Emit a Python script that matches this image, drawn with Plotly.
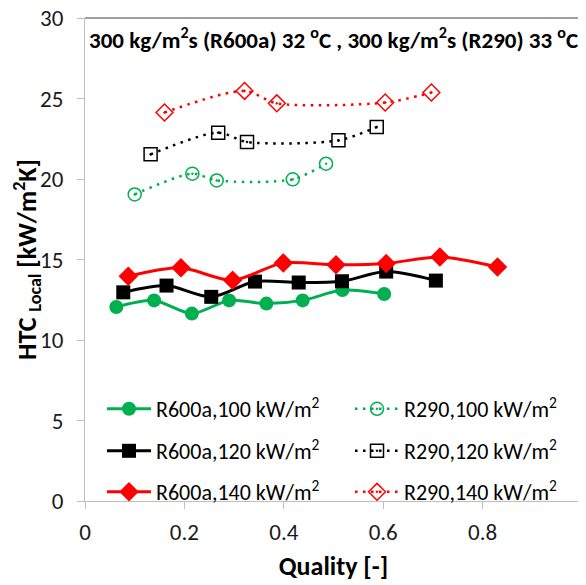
import plotly.graph_objects as go

# ---- data ----
r600a_100_x = [0.063, 0.139, 0.215, 0.290, 0.365, 0.438, 0.518, 0.602]
r600a_100_y = [12.05, 12.46, 11.64, 12.46, 12.26, 12.46, 13.10, 12.86]

r600a_120_x = [0.077, 0.164, 0.254, 0.342, 0.430, 0.517, 0.606, 0.706]
r600a_120_y = [12.96, 13.38, 12.68, 13.63, 13.57, 13.65, 14.25, 13.69]

r600a_140_x = [0.087, 0.193, 0.297, 0.399, 0.505, 0.606, 0.714, 0.830]
r600a_140_y = [13.96, 14.48, 13.71, 14.79, 14.67, 14.75, 15.16, 14.54]

r290_100_x = [0.100, 0.216, 0.265, 0.418, 0.485]
r290_100_y = [19.04, 20.33, 19.91, 19.98, 20.95]

r290_120_x = [0.132, 0.268, 0.326, 0.510, 0.587]
r290_120_y = [21.53, 22.88, 22.30, 22.40, 23.23]

r290_140_x = [0.160, 0.321, 0.386, 0.604, 0.697]
r290_140_y = [24.13, 25.47, 24.70, 24.75, 25.37]

names = {
    "a100": "R600a,100 kW/m<sup>2</sup>",
    "a120": "R600a,120 kW/m<sup>2</sup>",
    "a140": "R600a,140 kW/m<sup>2</sup>",
    "p100": "R290,100 kW/m<sup>2</sup>",
    "p120": "R290,120 kW/m<sup>2</sup>",
    "p140": "R290,140 kW/m<sup>2</sup>",
}
x_ticks = [0, 0.2, 0.4, 0.6, 0.8, 1]
x_ticktext = ["0", "0.2", "0.4", "0.6", "0.8", "1"]
y_ticks = [0, 5, 10, 15, 20, 25, 30]

GREEN = "#00B050"
BLACK = "#000000"
RED = "#FF0000"
FONT = "Carlito, Lato, sans-serif"

fig = go.Figure()

def solid(x, y, name, color, symbol, size, legend):
    fig.add_trace(go.Scatter(
        x=x, y=y, name=name, mode="lines+markers", legend=legend, showlegend=True,
        line=dict(color=color, width=3, shape="spline", smoothing=0.8),
        marker=dict(symbol=symbol, size=size, color=color),
    ))

def dotted(x, y, name, color, symbol, size, legend):
    fig.add_trace(go.Scatter(
        x=x, y=y, name=name, mode="lines+markers", legend=legend, showlegend=True,
        line=dict(color=color, width=2.5, dash="2.5px,5.5px", shape="spline", smoothing=0.8),
        marker=dict(symbol=symbol, size=size, color=color, line=dict(width=1.5, color=color)),
    ))

solid(r600a_100_x, r600a_100_y, names["a100"], GREEN, "circle", 14, "legend")
solid(r600a_120_x, r600a_120_y, names["a120"], BLACK, "square", 14, "legend2")
solid(r600a_140_x, r600a_140_y, names["a140"], RED, "diamond", 15, "legend3")
dotted(r290_100_x, r290_100_y, names["p100"], GREEN, "circle-open-dot", 13, "legend4")
dotted(r290_120_x, r290_120_y, names["p120"], BLACK, "square-open-dot", 13, "legend5")
dotted(r290_140_x, r290_140_y, names["p140"], RED, "diamond-open-dot", 13, "legend6")

# page body adds an 8px offset; figure sized/margined so the plot area
# lands at screen x 85..582, y 18..501
W, H = 578, 577
PL, PR, PT = 77, 4, 10
PB = H - PT - 483
SX0, SY1, PW, PH = 85, 501, 497, 483

def lx(px):
    return (px - SX0) / PW

def ly(py):
    return (SY1 - py) / PH

leg_common = dict(orientation="v", xanchor="left", yanchor="middle",
                  font=dict(family=FONT, size=22, color="#000000"),
                  bgcolor="rgba(0,0,0,0)", borderwidth=0, itemwidth=44)

fig.update_layout(
    width=W, height=H, showlegend=True,
    margin=dict(l=PL, r=PR, t=PT, b=PB),
    paper_bgcolor="white", plot_bgcolor="white",
    font=dict(family=FONT, color="#000000"),
    legend=dict(x=lx(102), y=ly(409), **leg_common),
    legend2=dict(x=lx(102), y=ly(451), **leg_common),
    legend3=dict(x=lx(102), y=ly(492), **leg_common),
    legend4=dict(x=lx(350), y=ly(409), **leg_common),
    legend5=dict(x=lx(350), y=ly(451), **leg_common),
    legend6=dict(x=lx(350), y=ly(492), **leg_common),
    xaxis=dict(
        range=[0, 1], tickvals=x_ticks, ticktext=x_ticktext, automargin=False,
        showgrid=False, zeroline=False, showline=True, linecolor="#BFBFBF", linewidth=1,
        ticks="outside", ticklen=7, tickcolor="#BFBFBF", tickfont=dict(size=23, color="#1a1a1a"),
        ticklabelstandoff=3, ticklabeloverflow="allow",
        title=dict(text="<b>Quality [-]</b>", font=dict(size=26), standoff=12),
    ),
    yaxis=dict(
        range=[0, 30], tickvals=y_ticks, automargin=False,
        showgrid=False, zeroline=False, showline=True, linecolor="#BFBFBF", linewidth=1,
        ticks="outside", ticklen=7, tickcolor="#BFBFBF", tickfont=dict(size=23, color="#1a1a1a"),
        ticklabelstandoff=9, ticklabeloverflow="allow",
        title=dict(text="<b>HTC <sub>Local</sub> [kW/m<sup>2</sup>K]</b>", font=dict(size=26), standoff=0),
    ),
    shapes=[
        dict(type="line", xref="x domain", yref="y domain", x0=0, x1=1, y0=1, y1=1,
             line=dict(color="#404040", width=1)),
        dict(type="line", xref="x domain", yref="y domain", x0=1, x1=1, y0=0, y1=1,
             line=dict(color="#404040", width=1)),
    ],
    annotations=[
        dict(text="<b>300 kg/m<sup>2</sup>s (R600a) 32 <sup>o</sup>C , 300 kg/m<sup>2</sup>s (R290) 33 <sup>o</sup>C</b>",
             xref="x domain", yref="y domain", x=0.5, y=ly(39), xanchor="center", yanchor="middle",
             showarrow=False, font=dict(size=23, family=FONT, color="#000000")),
    ],
)

fig.write_html("out.html")
